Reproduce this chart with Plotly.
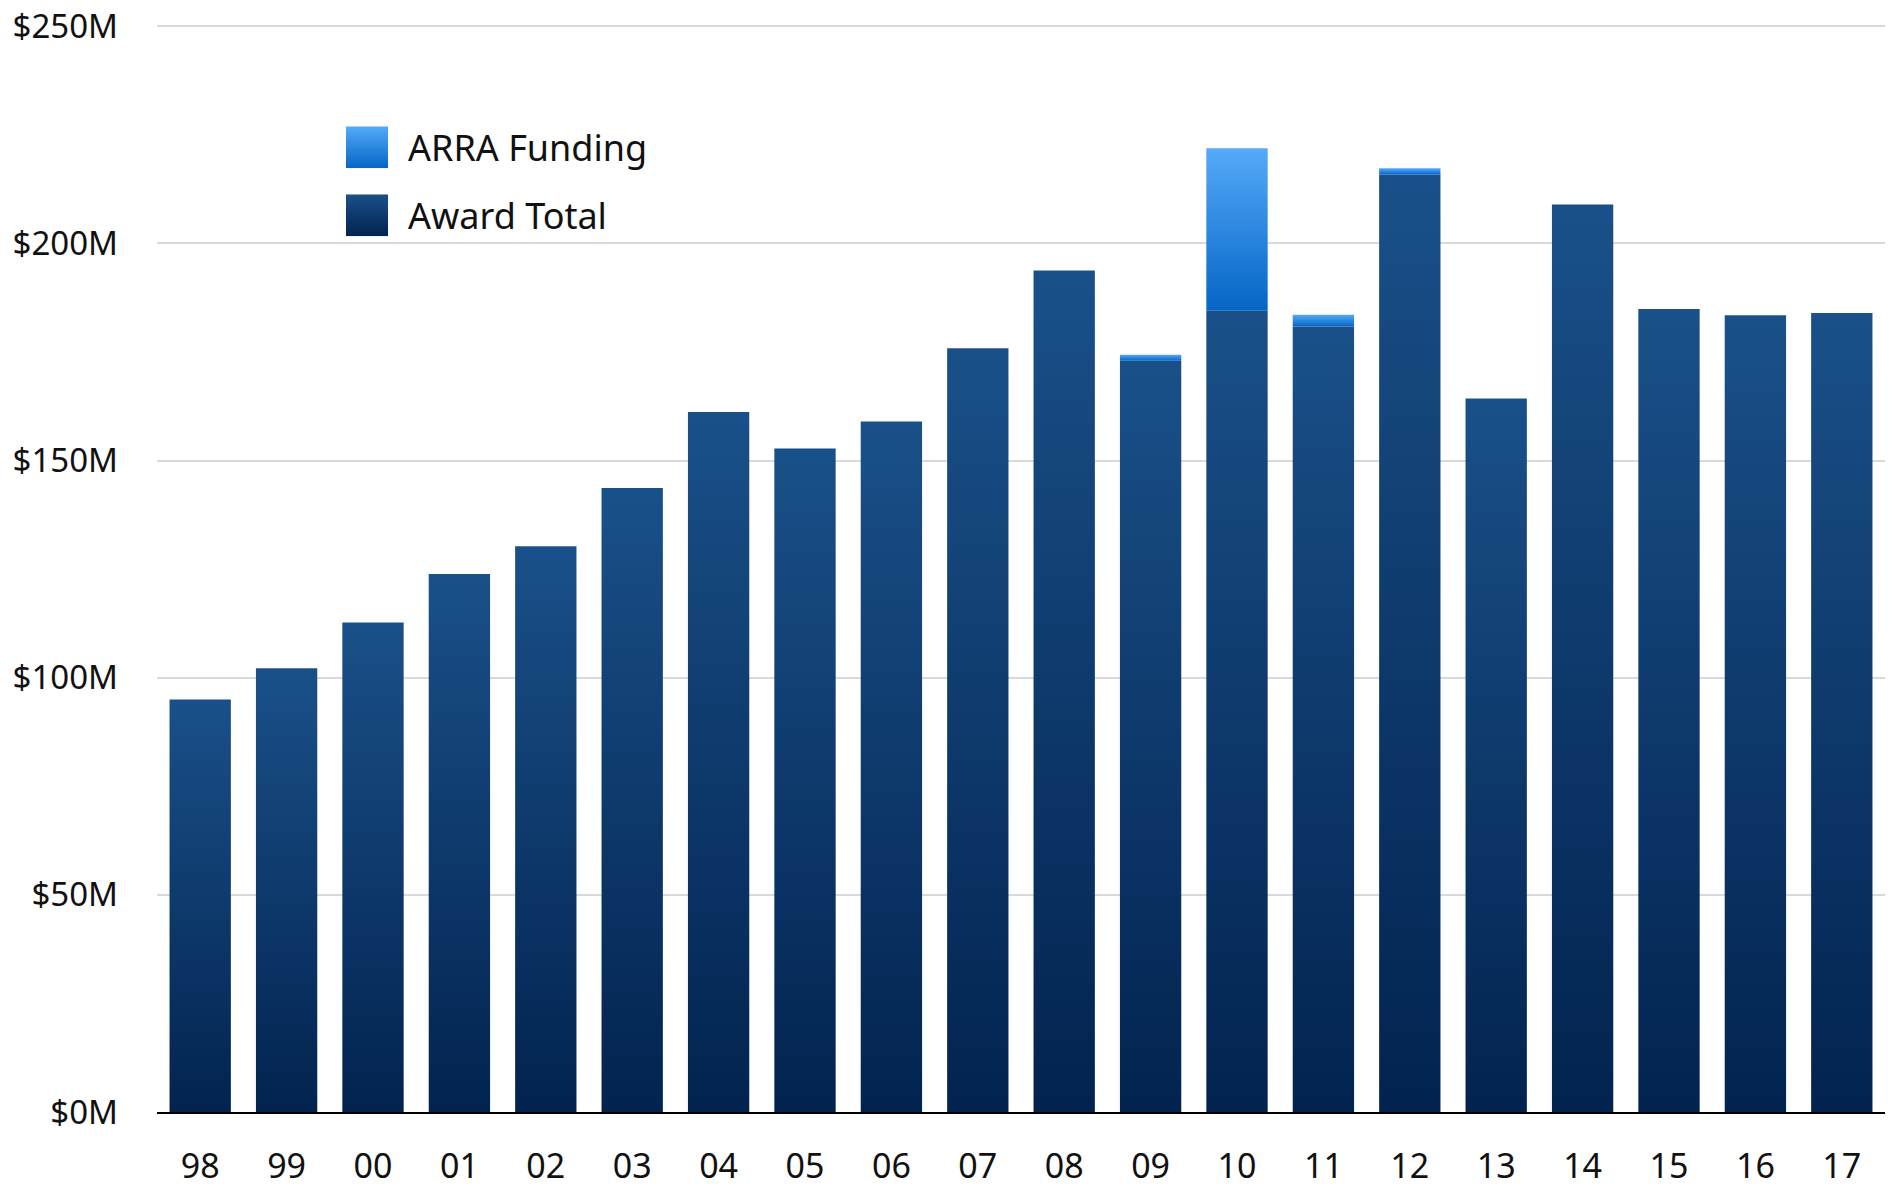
import base64
import plotly.graph_objects as go

# ---- data ----
years = ["98", "99", "00", "01", "02", "03", "04", "05", "06", "07",
         "08", "09", "10", "11", "12", "13", "14", "15", "16", "17"]
award_total = [95.0, 102.2, 112.7, 123.9, 130.3, 143.7, 161.2, 152.8, 159.0, 175.9,
               193.8, 173.0, 184.5, 180.9, 215.9, 164.3, 209.0, 184.9, 183.5, 184.0]
arra_funding = [0, 0, 0, 0, 0, 0, 0, 0, 0, 0,
                0, 1.4, 37.4, 2.7, 1.4, 0, 0, 0, 0, 0]
y_ticks = [0, 50, 100, 150, 200, 250]
y_tick_text = ["$0M", "$50M", "$100M", "$150M", "$200M", "$250M"]

# ---- style ----
FONT = "Noto Sans"
AWARD_TOP, AWARD_BOT = "#1a5089", "#02234f"
ARRA_TOP, ARRA_BOT = "#55aaf9", "#0565c5"
BAR_W = 0.71
Y_MAX = 251

fig = go.Figure()


def add_bar(i, y0, y1, top, bot, name):
    if y1 <= y0:
        return
    x0, x1 = i - BAR_W / 2, i + BAR_W / 2
    fig.add_trace(go.Scatter(
        x=[x0, x0, x1, x1, x0], y=[y0, y1, y1, y0, y0],
        mode="lines", line=dict(width=0), fill="toself",
        fillgradient=dict(type="vertical", colorscale=[[0, bot], [1, top]]),
        showlegend=False, name=name,
        hovertemplate=f"{years[i]}: ${y1 - y0:.1f}M<extra>{name}</extra>",
    ))


for i in range(len(years)):
    add_bar(i, 0, award_total[i], AWARD_TOP, AWARD_BOT, "Award Total")
    add_bar(i, award_total[i], award_total[i] + arra_funding[i], ARRA_TOP, ARRA_BOT, "ARRA Funding")


def grad_svg(top, bot):
    svg = (f'<svg xmlns="http://www.w3.org/2000/svg" width="42" height="42">'
           f'<defs><linearGradient id="g" x1="0" y1="0" x2="0" y2="1">'
           f'<stop offset="0" stop-color="{top}"/><stop offset="1" stop-color="{bot}"/>'
           f'</linearGradient></defs><rect width="42" height="42" fill="url(#g)"/></svg>')
    return "data:image/svg+xml;base64," + base64.b64encode(svg.encode()).decode()


# page body has an 8px margin; work in screen pixels and convert
OFF = 8
W, H = 1898 - 2 * OFF, 1186 - 2 * OFF
S_LEFT, S_RIGHT, S_BOTTOM = 157, 1885, 1112
S_TOP = 26 - (Y_MAX - 250) * (S_BOTTOM - 26) / 250
L = S_LEFT - OFF
R = W - (S_RIGHT - OFF)
T = S_TOP - OFF
B = H - (S_BOTTOM - OFF)
pw, ph = S_RIGHT - S_LEFT, S_BOTTOM - S_TOP


def px(x):
    return (x - S_LEFT) / pw


def py(y):
    return (S_BOTTOM - y) / ph


legend_items = [("ARRA Funding", ARRA_TOP, ARRA_BOT, 126), ("Award Total", AWARD_TOP, AWARD_BOT, 194)]
images, annotations = [], []
for label, top, bot, ytop in legend_items:
    images.append(dict(source=grad_svg(top, bot), xref="paper", yref="paper",
                       x=px(346), y=py(ytop), sizex=42 / pw, sizey=42 / ph,
                       sizing="stretch", xanchor="left", yanchor="top", layer="above"))
    annotations.append(dict(text=label, xref="paper", yref="paper", x=px(406), y=py(ytop + 21),
                            xanchor="left", yanchor="middle", showarrow=False,
                            font=dict(family=FONT, size=36, color="#111111")))

fig.update_layout(
    width=W, height=H,
    margin=dict(l=L, r=R, t=T, b=B, autoexpand=False),
    paper_bgcolor="white", plot_bgcolor="white",
    showlegend=False,
    images=images, annotations=annotations,
    font=dict(family=FONT, size=33, color="#111111"),
    xaxis=dict(range=[-0.5, len(years) - 0.5], tickmode="array",
               tickvals=list(range(len(years))), ticktext=years,
               showgrid=False, zeroline=False, showline=True, automargin=False,
               linecolor="black", linewidth=2, ticks="", ticklabelstandoff=23,
               ticklabeloverflow="allow",
               tickfont=dict(family=FONT, size=34, color="#111111"), fixedrange=True),
    yaxis=dict(range=[0, Y_MAX], tickmode="array", tickvals=y_ticks, ticktext=y_tick_text,
               showgrid=True, gridcolor="#d9d9d9", gridwidth=2, zeroline=False,
               showline=False, ticks="", ticklabelstandoff=38, automargin=False,
               ticklabeloverflow="allow",
               tickfont=dict(family=FONT, size=33, color="#111111"), fixedrange=True),
)

fig.write_html("out.html")
